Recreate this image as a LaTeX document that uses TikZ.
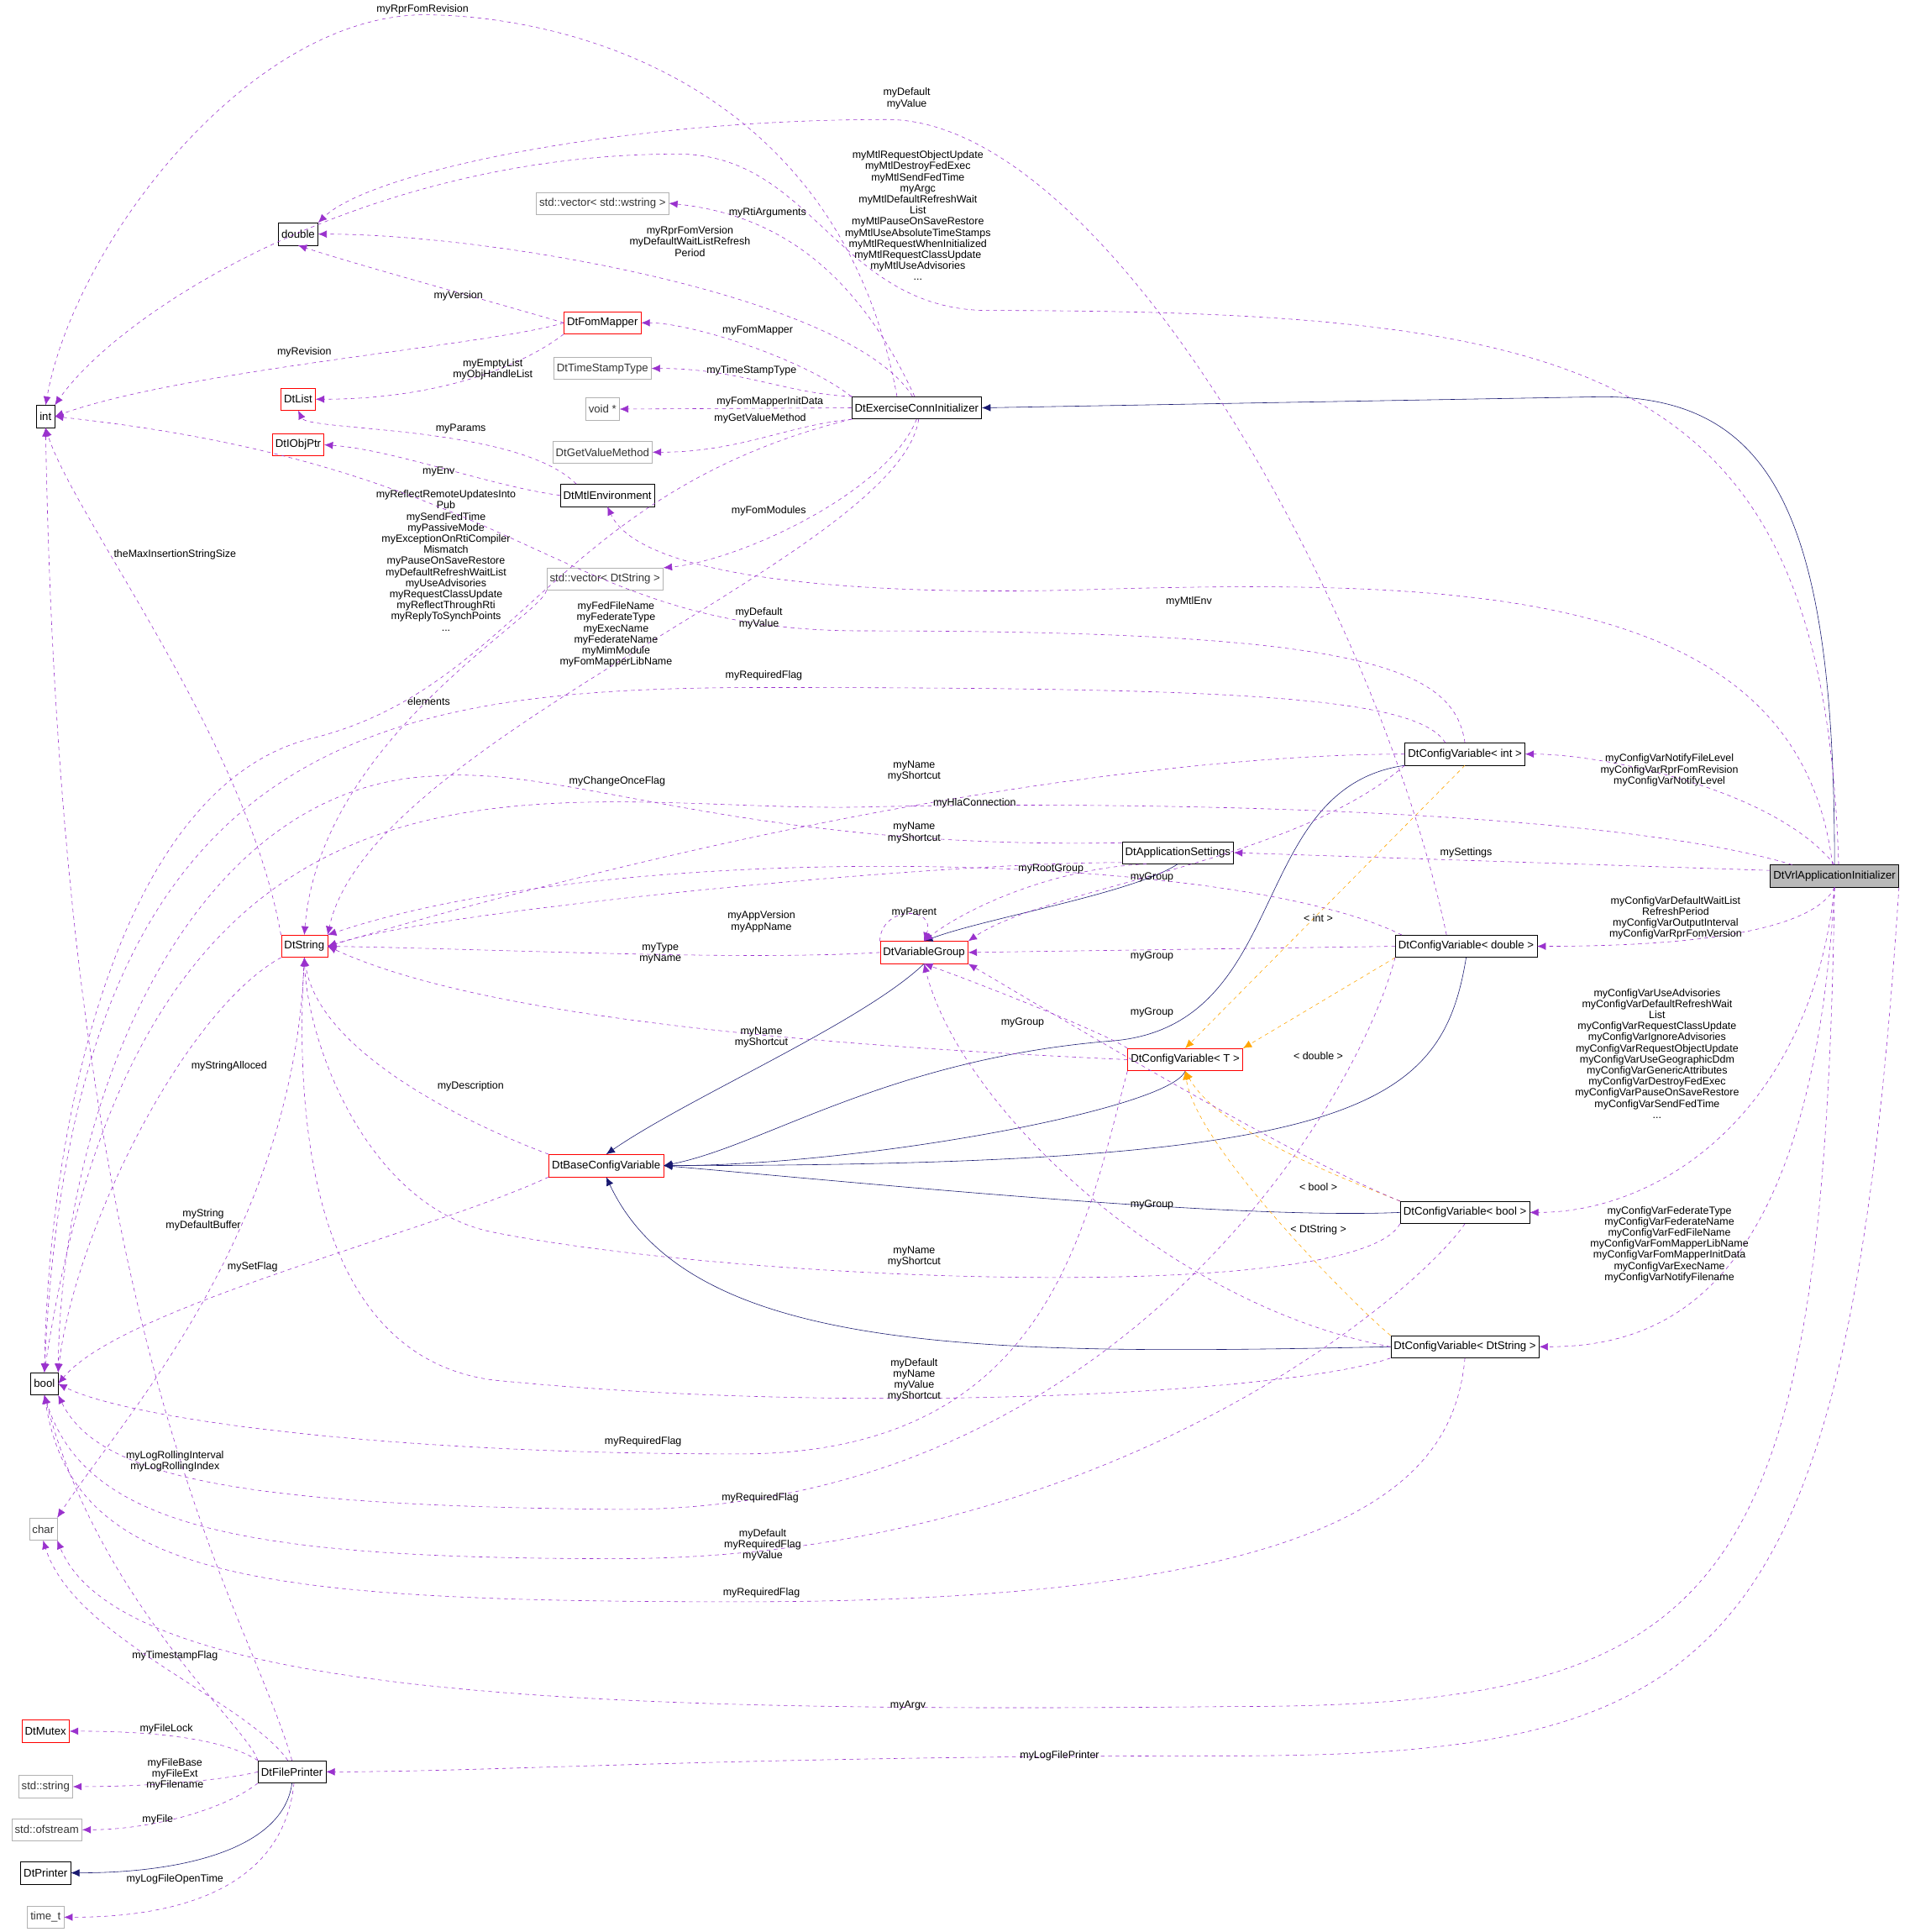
\documentclass[tikz,border=0pt]{standalone}
\usepackage{fontspec}
\setmainfont{Liberation Sans}
\usetikzlibrary{arrows.meta}
\definecolor{ucol}{HTML}{9A32CD}
\definecolor{icol}{HTML}{191970}
\definecolor{tcol}{HTML}{FFA500}
\begin{document}
\begin{tikzpicture}[x=1pt,y=-1pt,
 box/.style={draw=black,inner sep=2.5pt,minimum height=18pt,font=\fontsize{9}{10}\selectfont},
 rbox/.style={box,draw=red},
 gbox/.style={box,draw=gray!60,text=black!80},
 lbl/.style={align=center,inner sep=0.5pt,font=\fontsize{8.5}{9}\selectfont},
 use/.style={draw=ucol,dashed,-{Latex[length=7pt,width=6pt]}},
 inh/.style={draw=icol,-{Latex[length=7pt,width=6pt]}},
 tpl/.style={draw=tcol,dashed,-{Latex[length=7pt,width=6pt]}}]
\useasboundingbox (0,0) rectangle (1550,1568);
% nodes
\node[box] (int) at (37,338) {int};
\node[box] (dbl) at (242,190) {double};
\node[box] (bool) at (36,1123) {bool};
\node[gbox] (char) at (35,1241) {char};
\node[rbox] (mutex) at (37,1405) {DtMutex};
\node[gbox] (sstr) at (37,1450) {std::string};
\node[gbox] (ofs) at (38,1485) {std::ofstream};
\node[box] (prn) at (37,1520) {DtPrinter};
\node[gbox] (time) at (37,1556) {time\_t};
\node[box] (fp) at (237,1438) {DtFilePrinter};
\node[gbox] (vecws) at (489,165) {std::vector< std::wstring >};
\node[rbox] (fom) at (489,262) {DtFomMapper};
\node[gbox] (tst) at (489,299) {DtTimeStampType};
\node[gbox] (void) at (489,332) {void *};
\node[gbox] (gvm) at (489,367) {DtGetValueMethod};
\node[rbox] (list) at (242,324) {DtList};
\node[rbox] (iobj) at (242,361) {DtIObjPtr};
\node[box] (ec) at (744,331) {DtExerciseConnInitializer};
\node[box] (mtl) at (493,402) {DtMtlEnvironment};
\node[gbox] (vecds) at (491,470) {std::vector< DtString >};
\node[box] (cvi) at (1189,612) {DtConfigVariable< int >};
\node[box] (app) at (956,692) {DtApplicationSettings};
\node[box,fill=gray!55] (vrl) at (1489,711) {DtVrlApplicationInitializer};
\node[box] (cvd) at (1190,768) {DtConfigVariable< double >};
\node[rbox] (vg) at (750,773) {DtVariableGroup};
\node[rbox] (dts) at (247,768) {DtString};
\node[rbox] (cvT) at (962,860) {DtConfigVariable< T >};
\node[rbox] (base) at (492,946) {DtBaseConfigVariable};
\node[box] (cvb) at (1189,984) {DtConfigVariable< bool >};
\node[box] (cvs) at (1189,1093) {DtConfigVariable< DtString >};
% inheritance
\draw[inh] (vrl.north) .. controls (1489,420) and (1440,322) .. (1300,322) -- (ec.east);
\draw[inh] (app.south) .. controls (920,725) and (800,745) .. (vg.north);
\draw[inh] (vg.south) .. controls (700,830) and (560,890) .. (base.north);
\draw[inh] (cvi.south west) .. controls (1010,640) and (1050,835) .. (900,845) .. controls (720,860) and (620,930) .. (base.east);
\draw[inh] (cvT.south) .. controls (950,900) and (700,946) .. (base.east);
\draw[inh] (cvd.south) .. controls (1170,900) and (1100,946) .. (base.east);
\draw[inh] (cvb.west) .. controls (1000,990) and (700,960) .. (base.east);
\draw[inh] (cvs.west) .. controls (800,1100) and (560,1100) .. (base.south);
\draw[inh] (fp.south) .. controls (230,1500) and (150,1520) .. (prn.east);
% templates
\draw[tpl] (cvi.south) -- (cvT.north);
\draw[tpl] (cvd.south west) -- (cvT.north east);
\draw[tpl] (cvb.north west) .. controls (1100,960) and (990,920) .. (cvT.south);
\draw[tpl] (cvs.north west) .. controls (1100,1060) and (970,930) .. (cvT.south);
\node[lbl] (tl1) at (1070,745) {< int >};
\node[lbl] (tl2) at (1070,857) {< double >};
\node[lbl] (tl3) at (1070,963) {< bool >};
\node[lbl] (tl4) at (1070,998) {< DtString >};
% usage edges
\draw[use] (ec.150) .. controls (680,60) and (450,12) .. (343,12) .. controls (200,14) and (60,200) .. (int.north);
\node[lbl] (l1) at (343,8) {myRprFomRevision};
\draw[use] (cvd.150) .. controls (1120,500) and (900,97) .. (720,97) .. controls (500,97) and (300,140) .. (dbl.north east);
\node[lbl] (l2) at (736,80) {myDefault\\myValue};
\draw[use] (ec.110) .. controls (690,240) and (400,190) .. (dbl.east);
\node[lbl] (l3) at (560,196) {myRprFomVersion\\myDefaultWaitListRefresh\\Period};
\draw[use] (vrl.70) .. controls (1480,300) and (1300,252) .. (800,252) .. controls (680,250) and (660,125) .. (550,125) .. controls (300,125) and (100,250) .. (int.north east);
\node[lbl] (l4) at (745,175) {myMtlRequestObjectUpdate\\myMtlDestroyFedExec\\myMtlSendFedTime\\myArgc\\myMtlDefaultRefreshWait\\List\\myMtlPauseOnSaveRestore\\myMtlUseAbsoluteTimeStamps\\myMtlRequestWhenInitialized\\myMtlRequestClassUpdate\\myMtlUseAdvisories\\...};
\draw[use] (ec.100) .. controls (700,230) and (640,175) .. (vecws.east);
\node[lbl] (l5) at (623,173) {myRtiArguments};
\draw[use] (fom.west) .. controls (400,245) and (290,215) .. (dbl.south);
\node[lbl] (l6) at (372,240) {myVersion};
\draw[use] (fom.west) .. controls (400,280) and (150,300) .. (int.east);
\node[lbl] (l7) at (247,286) {myRevision};
\draw[use] (fom.south west) .. controls (420,300) and (350,324) .. (list.east);
\node[lbl] (l8) at (400,300) {myEmptyList\\myObjHandleList};
\draw[use] (ec.north west) .. controls (650,290) and (560,262) .. (fom.east);
\node[lbl] (l9) at (615,268) {myFomMapper};
\draw[use] (ec.170) .. controls (640,320) and (600,299) .. (tst.east);
\node[lbl] (l10) at (610,301) {myTimeStampType};
\draw[use] (ec.west) -- (void.east);
\node[lbl] (l11) at (625,326) {myFomMapperInitData};
\draw[use] (ec.190) .. controls (640,345) and (600,367) .. (gvm.east);
\node[lbl] (l12) at (617,340) {myGetValueMethod};
\draw[use] (mtl.160) .. controls (420,345) and (250,350) .. (list.south);
\node[lbl] (l13) at (374,348) {myParams};
\draw[use] (mtl.west) .. controls (400,395) and (320,365) .. (iobj.east);
\node[lbl] (l14) at (356,383) {myEnv};
\draw[use] (ec.south) .. controls (720,400) and (600,455) .. (vecds.north east);
\node[lbl] (l15) at (624,415) {myFomModules};
\draw[use] (ec.south west) .. controls (450,400) and (420,560) .. (250,600) .. controls (100,640) and (40,900) .. (bool.north);
\node[lbl] (l16) at (362,455) {myReflectRemoteUpdatesInto\\Pub\\mySendFedTime\\myPassiveMode\\myExceptionOnRtiCompiler\\Mismatch\\myPauseOnSaveRestore\\myDefaultRefreshWaitList\\myUseAdvisories\\myRequestClassUpdate\\myReflectThroughRti\\myReplyToSynchPoints\\...};
\draw[use] (ec.-80) .. controls (730,450) and (300,600) .. (dts.north east);
\node[lbl] (l17) at (500,515) {myFedFileName\\myFederateType\\myExecName\\myFederateName\\myMimModule\\myFomMapperLibName};
\draw[use] (vecds.south west) .. controls (440,500) and (260,600) .. (dts.north);
\node[lbl] (l18) at (348,569) {elements};
\draw[use] (dts.north west) .. controls (200,600) and (60,420) .. (int.south);
\node[lbl] (l19) at (142,450) {theMaxInsertionStringSize};
\draw[use] (vrl.100) .. controls (1460,480) and (1200,470) .. (900,478) .. controls (700,485) and (520,470) .. (mtl.south);
\node[lbl] (l20) at (965,488) {myMtlEnv};
\draw[use] (cvi.north) .. controls (1180,540) and (1100,512) .. (700,512) .. controls (450,512) and (430,380) .. (int.east);
\node[lbl] (l21) at (616,502) {myDefault\\myValue};
\draw[use] (cvi.150) .. controls (1150,565) and (1000,558) .. (620,558) .. controls (300,558) and (60,600) .. (bool.north);
\node[lbl] (l22) at (620,548) {myRequiredFlag};
\draw[use] (cvi.west) .. controls (1000,612) and (700,640) .. (dts.east);
\node[lbl] (l23) at (742,626) {myName\\myShortcut};
\draw[use] (vrl.north) .. controls (1440,640) and (1300,612) .. (cvi.east);
\node[lbl] (l24) at (1355,625) {myConfigVarNotifyFileLevel\\myConfigVarRprFomRevision\\myConfigVarNotifyLevel};
\draw[use] (vrl.165) .. controls (1300,655) and (900,650) .. (700,655) .. controls (450,660) and (120,560) .. (bool.north);
\node[lbl] (l25) at (791,652) {myHlaConnection};
\draw[use] (app.170) .. controls (600,690) and (460,620) .. (350,630) .. controls (150,640) and (50,900) .. (bool.north east);
\node[lbl] (l26) at (501,634) {myChangeOnceFlag};
\draw[use] (cvd.170) .. controls (1000,690) and (500,680) .. (dts.north east);
\node[lbl] (l27) at (742,676) {myName\\myShortcut};
\draw[use] (vrl.175) -- (app.east);
\node[lbl] (l28) at (1190,692) {mySettings};
\draw[use] (app.200) .. controls (850,705) and (780,740) .. (vg.north);
\node[lbl] (l29) at (853,705) {myRootGroup};
\draw[use] (app.190) .. controls (750,700) and (350,740) .. (dts.east);
\node[lbl] (l30) at (618,748) {myAppVersion\\myAppName};
\draw[use] (cvi.south west) .. controls (1050,700) and (850,720) .. (vg.north east);
\node[lbl] (l31) at (935,712) {myGroup};
\draw[use] (cvd.west) -- (vg.east);
\node[lbl] (l32) at (935,776) {myGroup};
\draw[use] (vg.north west) .. controls (715,735) and (760,735) .. (vg.north);
\node[lbl] (l33) at (742,741) {myParent};
\draw[use] (vg.west) .. controls (600,780) and (400,770) .. (dts.east);
\node[lbl] (l34) at (536,774) {myType\\myName};
\draw[use] (cvT.north west) .. controls (900,840) and (800,800) .. (vg.south);
\node[lbl] (l35) at (830,830) {myGroup};
\draw[use] (cvT.west) .. controls (700,850) and (400,830) .. (dts.east);
\node[lbl] (l36) at (618,842) {myName\\myShortcut};
\draw[use] (vrl.south) .. controls (1470,760) and (1350,768) .. (cvd.east);
\node[lbl] (l37) at (1360,745) {myConfigVarDefaultWaitList\\RefreshPeriod\\myConfigVarOutputInterval\\myConfigVarRprFomVersion};
\draw[use] (vrl.south) .. controls (1470,900) and (1350,984) .. (cvb.east);
\node[lbl] (l38) at (1345,855) {myConfigVarUseAdvisories\\myConfigVarDefaultRefreshWait\\List\\myConfigVarRequestClassUpdate\\myConfigVarIgnoreAdvisories\\myConfigVarRequestObjectUpdate\\myConfigVarUseGeographicDdm\\myConfigVarGenericAttributes\\myConfigVarDestroyFedExec\\myConfigVarPauseOnSaveRestore\\myConfigVarSendFedTime\\...};
\draw[use] (vrl.south) .. controls (1470,1050) and (1350,1093) .. (cvs.east);
\node[lbl] (l39) at (1355,1010) {myConfigVarFederateType\\myConfigVarFederateName\\myConfigVarFedFileName\\myConfigVarFomMapperLibName\\myConfigVarFomMapperInitData\\myConfigVarExecName\\myConfigVarNotifyFilename};
\draw[use] (cvb.north west) .. controls (1050,940) and (850,820) .. (vg.south east);
\node[lbl] (l40) at (935,822) {myGroup};
\draw[use] (cvs.west) .. controls (950,1060) and (780,900) .. (vg.south);
\node[lbl] (l41) at (935,978) {myGroup};
\draw[use] (base.north west) .. controls (400,920) and (260,860) .. (dts.south);
\node[lbl] (l42) at (382,882) {myDescription};
\draw[use] (base.south west) .. controls (350,1000) and (100,1060) .. (bool.east);
\node[lbl] (l43) at (205,1028) {mySetFlag};
\draw[use] (dts.south west) .. controls (150,820) and (60,1000) .. (bool.north east);
\node[lbl] (l44) at (186,865) {myStringAlloced};
\draw[use] (dts.south) .. controls (240,1000) and (100,1150) .. (char.north east);
\node[lbl] (l45) at (165,990) {myString\\myDefaultBuffer};
\draw[use] (cvb.south west) .. controls (1100,1060) and (600,1040) .. (400,1000) .. controls (300,980) and (250,850) .. (dts.south);
\node[lbl] (l46) at (742,1020) {myName\\myShortcut};
\draw[use] (cvs.south west) .. controls (1050,1130) and (700,1150) .. (400,1120) .. controls (250,1100) and (240,900) .. (dts.south);
\node[lbl] (l47) at (742,1120) {myDefault\\myName\\myValue\\myShortcut};
\draw[use] (cvT.south west) .. controls (880,1000) and (850,1180) .. (600,1180) .. controls (300,1180) and (100,1150) .. (bool.east);
\node[lbl] (l48) at (522,1170) {myRequiredFlag};
\draw[use] (cvd.south west) .. controls (1100,900) and (900,1228) .. (500,1225) .. controls (200,1222) and (80,1200) .. (bool.south east);
\node[lbl] (l49) at (617,1216) {myRequiredFlag};
\draw[use] (cvb.south) .. controls (1150,1050) and (900,1265) .. (500,1265) .. controls (200,1265) and (70,1240) .. (bool.south);
\node[lbl] (l50) at (619,1254) {myDefault\\myRequiredFlag\\myValue};
\draw[use] (cvs.south) .. controls (1180,1200) and (1100,1300) .. (600,1300) .. controls (200,1300) and (60,1280) .. (bool.south);
\node[lbl] (l51) at (618,1293) {myRequiredFlag};
\draw[use] (fp.north) .. controls (200,1300) and (50,1100) .. (int.south);
\node[lbl] (l52) at (142,1186) {myLogRollingInterval\\myLogRollingIndex};
\draw[use] (fp.north west) .. controls (200,1400) and (80,1300) .. (bool.south);
\node[lbl] (l53) at (142,1344) {myTimestampFlag};
\draw[use] (fp.110) .. controls (200,1380) and (60,1330) .. (char.south);
\draw[use] (vrl.south) .. controls (1480,1300) and (1400,1385) .. (1000,1385) .. controls (500,1390) and (100,1380) .. (char.south east);
\node[lbl] (l54) at (737,1384) {myArgv};
\draw[use] (vrl.south east) .. controls (1500,1350) and (1400,1425) .. (1000,1425) .. controls (600,1425) and (400,1438) .. (fp.east);
\node[lbl] (l55) at (860,1425) {myLogFilePrinter};
\draw[use] (fp.north west) .. controls (180,1410) and (120,1405) .. (mutex.east);
\node[lbl] (l56) at (135,1403) {myFileLock};
\draw[use] (fp.west) .. controls (180,1445) and (120,1450) .. (sstr.east);
\node[lbl] (l57) at (142,1440) {myFileBase\\myFileExt\\myFilename};
\draw[use] (fp.south west) .. controls (180,1470) and (120,1485) .. (ofs.east);
\node[lbl] (l58) at (128,1477) {myFile};
\draw[use] (fp.-80) .. controls (230,1530) and (150,1556) .. (time.east);
\node[lbl] (l59) at (142,1525) {myLogFileOpenTime};
\end{tikzpicture}
\end{document}
